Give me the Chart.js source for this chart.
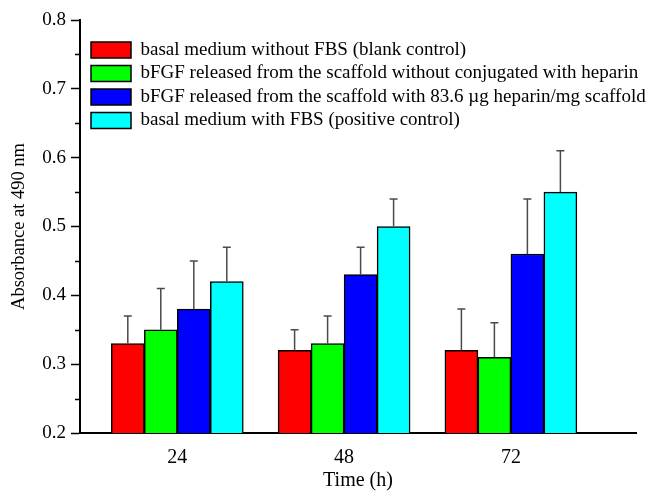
<!DOCTYPE html>
<html>
<head>
<meta charset="utf-8">
<script src="https://cdn.jsdelivr.net/npm/chart.js@4.4.1/dist/chart.umd.min.js"></script>
<style>
  html, body { margin: 0; padding: 0; background: #fff; }
  #wrap { width: 654px; height: 491px; }
</style>
</head>
<body>
<div id="wrap"><canvas id="chart" width="654" height="491"></canvas></div>
<script>
const hours = [24, 48, 72];
const yTickValues = [0.2, 0.3, 0.4, 0.5, 0.6, 0.7, 0.8];
const yMinorTicks = [0.25, 0.35, 0.45, 0.55, 0.65, 0.75];

const seriesNames = [
  "basal medium without FBS (blank control)",
  "bFGF released from the scaffold without conjugated with heparin",
  "bFGF released from the scaffold with 83.6 \u00b5g heparin/mg scaffold",
  "basal medium with FBS (positive control)"
];
const seriesColors = ["#ff0000", "#00ff00", "#0000ff", "#00ffff"];

const blankCtrl = [0.33, 0.32, 0.32];
const blankErr = [0.04, 0.03, 0.06];
const noHeparin = [0.35, 0.33, 0.31];
const noHeparinErr = [0.06, 0.04, 0.05];
const withHeparin = [0.38, 0.43, 0.46];
const withHeparinErr = [0.07, 0.04, 0.08];
const posCtrl = [0.42, 0.50, 0.55];
const posErr = [0.05, 0.04, 0.06];

const values = [blankCtrl, noHeparin, withHeparin, posCtrl];
const errors = [blankErr, noHeparinErr, withHeparinErr, posErr];

const FONT = "'Liberation Serif', 'DejaVu Serif', serif";

// upper error bars with a small cap
const errorBars = {
  id: "errorBars",
  afterDatasetsDraw(chart) {
    const ctx = chart.ctx;
    const y = chart.scales.y;
    ctx.save();
    ctx.strokeStyle = "#4a4a4a";
    ctx.lineWidth = 1.5;
    chart.data.datasets.forEach((ds, di) => {
      const meta = chart.getDatasetMeta(di);
      meta.data.forEach((bar, i) => {
        const top = y.getPixelForValue(values[di][i] + errors[di][i]);
        ctx.beginPath();
        ctx.moveTo(bar.x, bar.y);
        ctx.lineTo(bar.x, top);
        ctx.moveTo(bar.x - 4, top);
        ctx.lineTo(bar.x + 4, top);
        ctx.stroke();
      });
    });
    ctx.restore();
  }
};

// short minor ticks on the y axis
const minorTicks = {
  id: "minorTicks",
  afterDraw(chart) {
    const ctx = chart.ctx;
    const y = chart.scales.y;
    const x0 = chart.chartArea.left;
    ctx.save();
    ctx.strokeStyle = "#000";
    ctx.lineWidth = 1.5;
    yMinorTicks.forEach(v => {
      const py = Math.round(y.getPixelForValue(v)) + 0.5;
      ctx.beginPath();
      ctx.moveTo(x0 - 5, py);
      ctx.lineTo(x0, py);
      ctx.stroke();
    });
    ctx.restore();
  }
};

// put the in-plot legend where the original has it (and let the text run to the edge)
const legendOffset = {
  id: "legendOffset",
  beforeDraw(chart) {
    const lg = chart.legend;
    const area = chart.chartArea;
    const h = lg.bottom - lg.top;
    lg.left = area.left + 6.5;
    lg.right = chart.width;
    lg.top = area.top + 16;
    lg.bottom = lg.top + h;
  }
};

const datasets = seriesNames.map((name, di) => ({
  label: name,
  data: hours.map((h, i) => ({ x: h, y: values[di][i] })),
  backgroundColor: seriesColors[di],
  borderColor: "#000",
  borderWidth: 1.5,
  borderSkipped: false,
  barThickness: 33
}));

new Chart(document.getElementById("chart"), {
  type: "bar",
  data: { datasets },
  plugins: [errorBars, minorTicks, legendOffset],
  options: {
    responsive: false,
    animation: false,
    layout: { padding: { top: 20, right: 18, left: 0, bottom: 0 } },
    plugins: {
      tooltip: { enabled: false },
      legend: {
        position: "chartArea",
        align: "start",
        labels: {
          boxWidth: 40,
          boxHeight: 16,
          padding: 4.5,
          color: "#000",
          font: { family: FONT, size: 19 }
        }
      }
    },
    scales: {
      x: {
        type: "linear",
        offset: false,
        min: 10,
        max: 90,
        afterBuildTicks: s => { s.ticks = hours.map(v => ({ value: v })); },
        afterFit: s => { s.height = 58; },
        grid: { display: false, offset: false },
        border: { display: true, color: "#000", width: 2 },
        ticks: { color: "#000", padding: 5, font: { family: FONT, size: 20 } },
        title: {
          display: true,
          text: "Time (h)",
          color: "#000",
          padding: { top: 0, bottom: -2 },
          font: { family: FONT, size: 20 }
        }
      },
      y: {
        min: 0.2,
        max: 0.8,
        afterBuildTicks: s => { s.ticks = yTickValues.map(v => ({ value: v })); },
        afterFit: s => { s.width = 80; },
        grid: { drawOnChartArea: false, tickLength: 9, tickWidth: 1.5, tickColor: "#000" },
        border: { display: true, color: "#000", width: 2 },
        ticks: {
          color: "#000",
          padding: 5,
          font: { family: FONT, size: 19 },
          callback: v => v.toFixed(1)
        },
        title: {
          display: true,
          text: "Absorbance at 490 nm",
          color: "#000",
          padding: { top: 8, bottom: 0 },
          font: { family: FONT, size: 18.5 }
        }
      }
    }
  }
});
</script>
</body>
</html>
